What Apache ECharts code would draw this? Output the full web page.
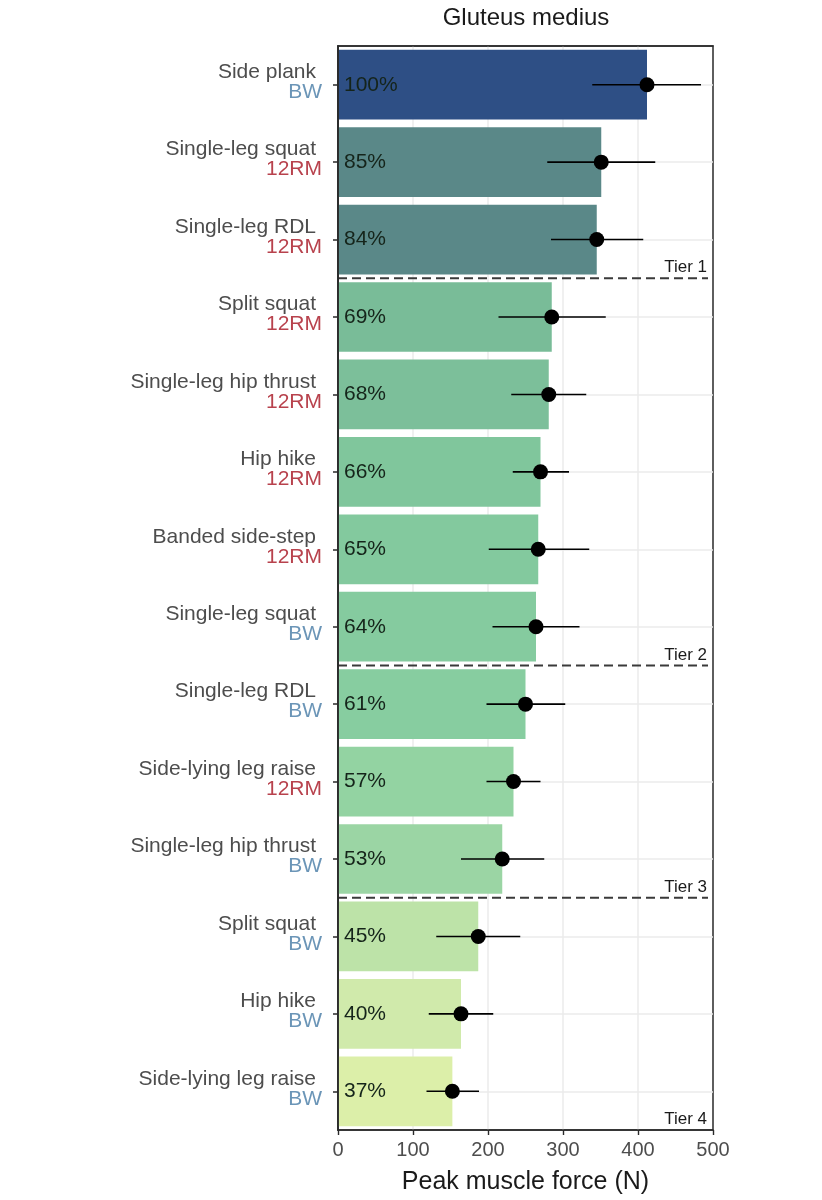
<!DOCTYPE html>
<html>
<head>
<meta charset="utf-8">
<script src="https://cdn.jsdelivr.net/npm/echarts@6/dist/echarts.min.js"></script>
<style>
html,body{margin:0;padding:0;background:#fff;}
#chart{width:822px;height:1200px;}
</style>
</head>
<body>
<div id="chart"></div>
<script>
const exercises = ['Side plank','Single-leg squat','Single-leg RDL','Split squat','Single-leg hip thrust','Hip hike','Banded side-step','Single-leg squat','Single-leg RDL','Side-lying leg raise','Single-leg hip thrust','Split squat','Hip hike','Side-lying leg raise'];
const loads = ['BW','12RM','12RM','12RM','12RM','12RM','12RM','BW','BW','12RM','BW','BW','BW','BW'];
const percentLabels = [100,85,84,69,68,66,65,64,61,57,53,45,40,37];
const peakForce = [412,351,345,285,281,270,267,264,250,234,219,187,164,152.5];
const errLow = [339,279,284,214,231,233,201,206,198,198,164,131,121,118];
const errHigh = [484,423,407,357,331,308,335,322,303,270,275,243,207,188];
const barColors = ['#2e4f85','#5a8888','#5a8888','#79bc98','#7cbf9a','#80c69c','#83c99e','#85cb9f','#87cda0','#93d3a2','#9bd5a4','#bde3a8','#d0eaab','#dcefa9'];
const tierLabels = ['Tier 1','Tier 2','Tier 3','Tier 4'];
const tierLastRow = [2,7,10,13];
const xTicks = {min:0, max:500, interval:100};

const keys = exercises.map((e,i)=>e+'|'+loads[i]);

const chart = echarts.init(document.getElementById('chart'), null, {renderer:'canvas'});
const FONT = 'Liberation Sans, Arial, sans-serif';

const option = {
  backgroundColor:'#fff',
  animation:false,
  textStyle:{fontFamily:FONT},
  title:{
    text:'Gluteus medius',
    left:526, top:6, padding:0, textAlign:'center',
    textStyle:{fontFamily:FONT, fontSize:24, fontWeight:'normal', color:'#1a1a1a'}
  },
  grid:{left:338, right:109, top:46, bottom:63, show:true, borderColor:'#2a2a2a', borderWidth:1.5, backgroundColor:'#fff'},
  xAxis:[{
    type:'value', min:xTicks.min, max:xTicks.max, interval:xTicks.interval,
    name:'Peak muscle force (N)', nameLocation:'middle', nameGap:40,
    nameTextStyle:{fontFamily:FONT, fontSize:25, color:'#1a1a1a'},
    axisLine:{show:true, lineStyle:{color:'#2a2a2a', width:1.5}},
    axisTick:{show:true, length:5, lineStyle:{color:'#2a2a2a', width:1.4}},
    axisLabel:{margin:10, fontFamily:FONT, fontSize:20, color:'#4d4d4d'},
    splitLine:{show:true, showMinLine:false, showMaxLine:false, lineStyle:{color:'#ebebeb', width:1.5}}
  },{
    type:'value', position:'top', min:xTicks.min, max:xTicks.max, interval:xTicks.interval, z:10,
    axisLine:{show:true, lineStyle:{color:'#2a2a2a', width:1.5}},
    axisTick:{show:false}, axisLabel:{show:false}, splitLine:{show:false}
  }],
  yAxis:[{
    type:'category', inverse:true, data:keys, z:10,
    axisLine:{show:true, lineStyle:{color:'#2a2a2a', width:1.5}},
    axisTick:{show:true, alignWithLabel:true, length:5, lineStyle:{color:'#2a2a2a', width:1.5}},
    splitLine:{show:false},
    axisLabel:{
      margin:16, align:'right', padding:[0,0,5,0],
      formatter:function(v){
        const p = v.split('|');
        return '{n|'+p[0]+'}\n{'+(p[1]==='BW'?'bw':'rm')+'|'+p[1]+'}';
      },
      rich:{
        n:{fontFamily:FONT, fontSize:21, lineHeight:20, color:'#4d4d4d', padding:[0,6,0,0], align:'right'},
        bw:{fontFamily:FONT, fontSize:21, lineHeight:20, color:'#6b95b7', align:'right'},
        rm:{fontFamily:FONT, fontSize:21, lineHeight:20, color:'#b8424d', align:'right'}
      }
    }
  },{
    type:'category', inverse:true, data:keys, position:'right', z:10,
    axisLine:{show:true, lineStyle:{color:'#2a2a2a', width:1.5}},
    axisTick:{show:false}, axisLabel:{show:false}, splitLine:{show:false}
  }],
  series:[
    {
      type:'scatter', z:1, silent:true, symbolSize:0,
      data:[[0,0]],
      markLine:{
        z:1, silent:true, symbol:'none', label:{show:false},
        lineStyle:{color:'#ebebeb', type:'solid', width:1.5},
        emphasis:{disabled:true},
        data:keys.map(k=>({yAxis:k}))
      }
    },
    {
      type:'bar', z:2, barWidth:'90%',
      data:peakForce.map((v,i)=>({value:v, itemStyle:{color:barColors[i]}})),
      label:{
        show:true, position:'insideLeft', distance:6,
        fontFamily:FONT, fontSize:21, color:'#15241a',
        formatter:function(p){return percentLabels[p.dataIndex]+'%';}
      }
    },
    {
      type:'custom', z:4, silent:true,
      data:errLow.map((lo,i)=>[lo, errHigh[i], i]),
      encode:{x:[0,1], y:2},
      renderItem:function(params, api){
        const a = api.coord([api.value(0), api.value(2)]);
        const b = api.coord([api.value(1), api.value(2)]);
        return {type:'line', shape:{x1:a[0], y1:a[1], x2:b[0], y2:b[1]}, style:{stroke:'#000', lineWidth:1.6}};
      }
    },
    {
      type:'scatter', z:5, silent:true, symbol:'circle', symbolSize:15,
      itemStyle:{color:'#000', opacity:1},
      data:peakForce.map((v,i)=>[v,i])
    },
    {
      type:'custom', z:6, silent:true,
      data:tierLastRow.map((r,i)=>[xTicks.max, r, i]),
      encode:{x:0, y:1},
      renderItem:function(params, api){
        const r = api.value(1);
        const pr = api.coord([xTicks.max, r]);
        const pl = api.coord([xTicks.min, r]);
        const band = api.size([0,1])[1];
        const y = pr[1] + band/2;
        const idx = params.dataIndex;
        const children = [];
        if (idx < tierLabels.length - 1) {
          children.push({type:'line', shape:{x1:pl[0], y1:y, x2:pr[0]-5, y2:y},
            style:{stroke:'#3a3a3a', lineWidth:2, lineDash:[9,5]}});
        }
        children.push({type:'text', style:{text:tierLabels[idx], x:pr[0]-6, y:y-2,
          textAlign:'right', textVerticalAlign:'bottom', fontFamily:FONT, fontSize:17, fill:'#1a1a1a'}});
        return {type:'group', children:children};
      }
    }
  ]
};
chart.setOption(option);
</script>
</body>
</html>
